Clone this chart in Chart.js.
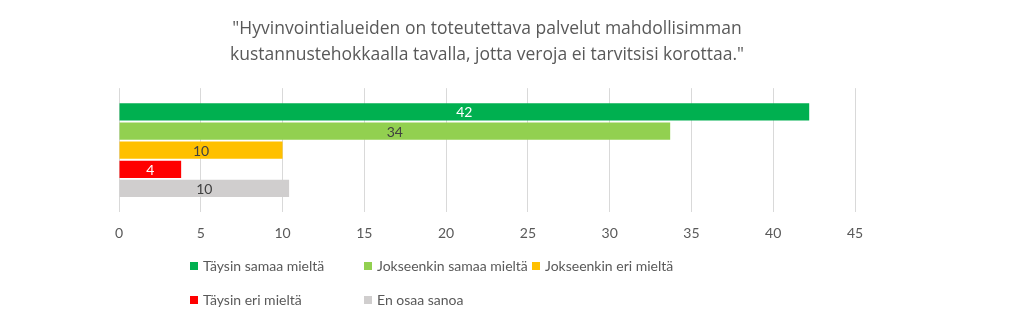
<!DOCTYPE html>
<html>
<head>
<meta charset="utf-8">
<script src="https://cdn.jsdelivr.net/npm/chart.js@4"></script>
<style>
  html, body { margin: 0; padding: 0; background: #fff; }
  #wrap { position: relative; width: 1023px; height: 334px; }
  #legend { position: absolute; left: 0; top: 0; font-family: Lato, sans-serif; font-size: 14px; color: #595959; }
  .item { position: absolute; white-space: nowrap; line-height: 18px; }
  .item span.box { position: absolute; width: 8px; height: 8px; top: 5px; left: 0; }
  .item span.txt { position: absolute; left: 13px; top: 0; }
</style>
</head>
<body>
<div id="wrap">
  <canvas id="chart" width="1023" height="334"></canvas>
  <div id="legend"></div>
</div>
<script>
const titleLines = [
  '"Hyvinvointialueiden on toteutettava palvelut mahdollisimman',
  'kustannustehokkaalla tavalla, jotta veroja ei tarvitsisi korottaa."'
];
const seriesNames = ["Täysin samaa mieltä", "Jokseenkin samaa mieltä", "Jokseenkin eri mieltä", "Täysin eri mieltä", "En osaa sanoa"];
const seriesValues = [42.2, 33.7, 10.0, 3.8, 10.4];
const seriesColors = ["#00b050", "#92d050", "#ffc000", "#ff0000", "#d0cece"];
const labelColors = ["#ffffff", "#404040", "#404040", "#ffffff", "#404040"];
const xTicks = [0, 5, 10, 15, 20, 25, 30, 35, 40, 45];

// legend positions copied from the layout of the original
const legendPos = [[190, 257], [364, 257], [532, 257], [190, 291], [364, 291]];

const legendEl = document.getElementById("legend");
seriesNames.forEach((name, i) => {
  const d = document.createElement("div");
  d.className = "item";
  d.style.left = legendPos[i][0] + "px";
  d.style.top = legendPos[i][1] + "px";
  d.innerHTML = '<span class="box" style="background:' + seriesColors[i] + '"></span><span class="txt"></span>';
  d.querySelector(".txt").textContent = name;
  legendEl.appendChild(d);
});

const valueLabels = {
  id: "valueLabels",
  afterDatasetsDraw(chart) {
    const ctx = chart.ctx;
    ctx.save();
    ctx.font = "14px Lato";
    ctx.textAlign = "center";
    ctx.textBaseline = "middle";
    chart.data.datasets.forEach((ds, i) => {
      const bar = chart.getDatasetMeta(i).data[0];
      const x = (bar.base + bar.x) / 2;
      ctx.fillStyle = labelColors[i];
      ctx.fillText(Math.round(ds.data[0]), x, bar.y + 1);
    });
    ctx.restore();
  }
};

new Chart(document.getElementById("chart"), {
  type: "bar",
  data: {
    labels: [""],
    datasets: seriesNames.map((name, i) => ({
      label: name,
      data: [seriesValues[i]],
      backgroundColor: seriesColors[i],
      categoryPercentage: 0.772,
      barPercentage: 0.9
    }))
  },
  options: {
    indexAxis: "y",
    responsive: false,
    animation: false,
    layout: { padding: { left: 119, right: 168, top: 0, bottom: 79 } },
    plugins: {
      legend: { display: false },
      tooltip: { enabled: false },
      title: {
        display: true,
        text: titleLines,
        color: "#595959",
        font: { family: "Open Sans", size: 17.5, weight: "normal", lineHeight: 1.49 },
        padding: { top: 16, bottom: 20 }
      }
    },
    scales: {
      x: {
        min: 0,
        max: 45,
        afterBuildTicks: axis => { axis.ticks = xTicks.map(v => ({ value: v })); },
        grid: { color: "#d9d9d9", drawTicks: false },
        border: { display: false },
        ticks: { color: "#595959", padding: 13, font: { family: "Lato", size: 14 } }
      },
      y: {
        display: false
      }
    }
  },
  plugins: [valueLabels]
});
</script>
</body>
</html>
